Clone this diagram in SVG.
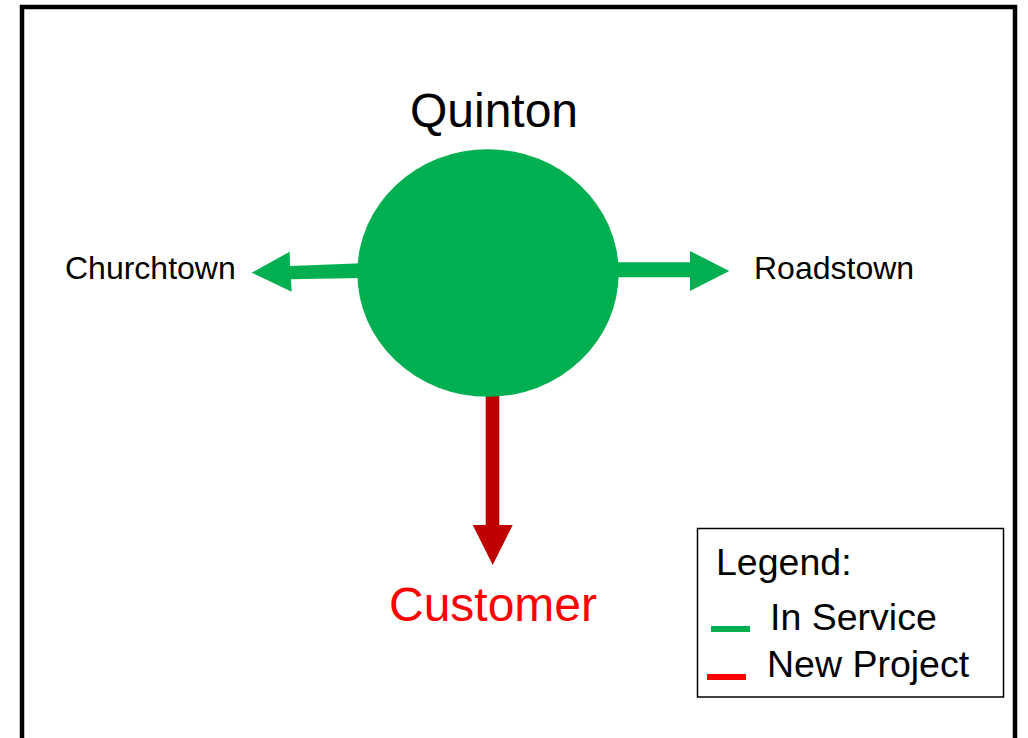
<svg xmlns="http://www.w3.org/2000/svg" width="1028" height="738" viewBox="0 0 1028 738">
<style>
text{font-family:"Liberation Sans",Arial,sans-serif;fill:#000}
.green{fill:#00B050}
.red{fill:#C00000}
.lbl{font-size:32px}
.big{font-size:48px}
.leg{font-size:37.5px}
</style>
<rect x="0" y="0" width="1028" height="738" fill="#fff"/>
<rect id="frame" x="22" y="7" width="993" height="760" fill="none" stroke="#000" stroke-width="4.5"/>
<g id="connectors">
<polygon class="green" points="251.7,272.7 289.7,251.7 290,266 362,263.3 362,278 291,279.3 291.7,291.7"/>
<polygon class="green" points="614,262.3 690,262.3 690,251 729.3,271 690,291 690,277.3 614,277.3"/>
<polygon class="red" points="485.7,390 499.3,390 499.3,525 512.7,525 492.7,565 472.7,525 485.7,525"/>
</g>
<g id="quinton">
<ellipse class="green" cx="488" cy="273" rx="130.7" ry="123.8"/>
<text class="big" x="494" y="127" text-anchor="middle">Quinton</text>
</g>
<g id="churchtown"><text class="lbl" x="65" y="279">Churchtown</text></g>
<g id="roadstown"><text class="lbl" x="754" y="279">Roadstown</text></g>
<g id="customer"><text class="big" x="493" y="621" text-anchor="middle" style="fill:#FF0000">Customer</text></g>
<g id="legend">
<rect x="697.5" y="528.5" width="306" height="168.5" fill="#fff" stroke="#000" stroke-width="1.5"/>
<text class="leg" x="716" y="575">Legend:</text>
<rect x="711" y="626" width="39" height="6" fill="#00B050"/>
<text class="leg" x="770" y="630">In Service</text>
<rect x="707" y="674" width="39" height="6" fill="#FF0000"/>
<text class="leg" x="767" y="677">New Project</text>
</g>
</svg>
